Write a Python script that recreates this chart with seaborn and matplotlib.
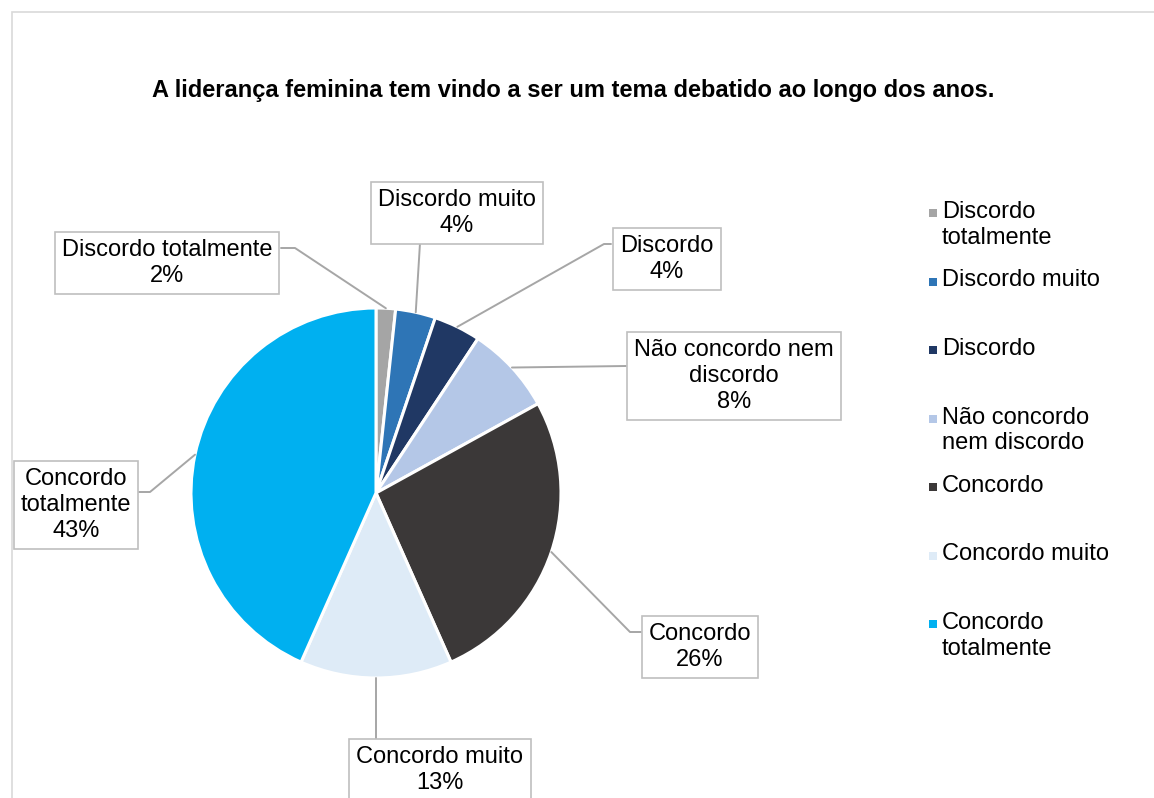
import numpy as np
import matplotlib
matplotlib.use("Agg")
import matplotlib.pyplot as plt
from matplotlib.patches import Rectangle
import seaborn as sns

# dados (percentagens)
categorias = ["Discordo totalmente", "Discordo muito", "Discordo",
              "Não concordo nem discordo", "Concordo", "Concordo muito",
              "Concordo totalmente"]
valores = [1.7, 3.5, 4.1, 7.7, 26.4, 13.3, 43.4]
rotulos_caixa = ["Discordo totalmente", "Discordo muito", "Discordo",
                 "Não concordo nem\ndiscordo", "Concordo", "Concordo muito",
                 "Concordo\ntotalmente"]
rotulos_legenda = ["Discordo\ntotalmente", "Discordo muito", "Discordo",
                   "Não concordo\nnem discordo", "Concordo", "Concordo muito",
                   "Concordo\ntotalmente"]
cores = ["#A5A5A5", "#2E75B6", "#203864", "#B4C7E7", "#3B3838", "#DEEBF7", "#00B0F0"]
titulo = "A liderança feminina tem vindo a ser um tema debatido ao longo dos anos."

sns.set_theme(style="white")
plt.rcParams['font.family'] = ['Liberation Sans', 'DejaVu Sans']
plt.rcParams['text.color'] = 'black'

W, H = 1154, 798
fig = plt.figure(figsize=(W / 100, H / 100), dpi=100)
ax = fig.add_axes([0, 0, 1, 1])

def p(x, y):
    # coordenadas em pixeis da imagem -> coordenadas do eixo
    return x, H - y

cx, cy = p(376, 493)
raio = 185
wedges, _ = ax.pie(valores, colors=sns.color_palette(cores), startangle=90,
                   counterclock=False, center=(cx, cy), radius=raio,
                   wedgeprops=dict(edgecolor="white", linewidth=2.2))
ax.set_xlim(0, W)
ax.set_ylim(0, H)
ax.set_aspect("equal")
ax.axis("off")

# moldura do grafico
ax.add_patch(Rectangle(p(12, 1000), 1400, 988, fill=False, edgecolor="#D9D9D9", linewidth=1.2))

ax.text(*p(573, 91), titulo, ha="center", va="center", fontsize=17, fontweight="bold")

# rotulos com linhas de chamada
caixas = [(167, 263), (457, 213), (667, 259), (734, 376), (700, 647), (440, 770), (76, 505)]
cotovelos = [
    [(281, 248), (295, 248)],
    [(420, 243)],
    [(611, 244), (604, 244)],
    [(626, 366)],
    [(641, 632), (630, 632)],
    [(376, 740)],
    [(139, 492), (150, 492)],
]
for w, rot, v, caixa, cot in zip(wedges, rotulos_caixa, valores, caixas, cotovelos):
    ang = np.deg2rad((w.theta1 + w.theta2) / 2)
    ax_ = cx + raio * np.cos(ang)
    ay_ = cy + raio * np.sin(ang)
    pts = [p(*c) for c in cot] + [(ax_, ay_)]
    xs, ys = zip(*pts)
    ax.plot(xs, ys, color="#A6A6A6", linewidth=1.4, zorder=1)
    ax.text(*p(*caixa), f"{rot}\n{round(v)}%", ha="center", va="center",
            fontsize=17, linespacing=1.22, zorder=3,
            bbox=dict(boxstyle="square,pad=0.3", facecolor="white",
                      edgecolor="#BFBFBF", linewidth=1.2))

# legenda
for i, (rot, cor) in enumerate(zip(rotulos_legenda, cores)):
    y0 = 213 + 68.5 * i
    ax.add_patch(Rectangle(p(929, y0 + 4), 8, 8, facecolor=cor, edgecolor="none"))
    ax.text(*p(942, y0 - 12), rot, ha="left", va="top", fontsize=17, linespacing=1.22)

fig.savefig("out.png", dpi=100)
